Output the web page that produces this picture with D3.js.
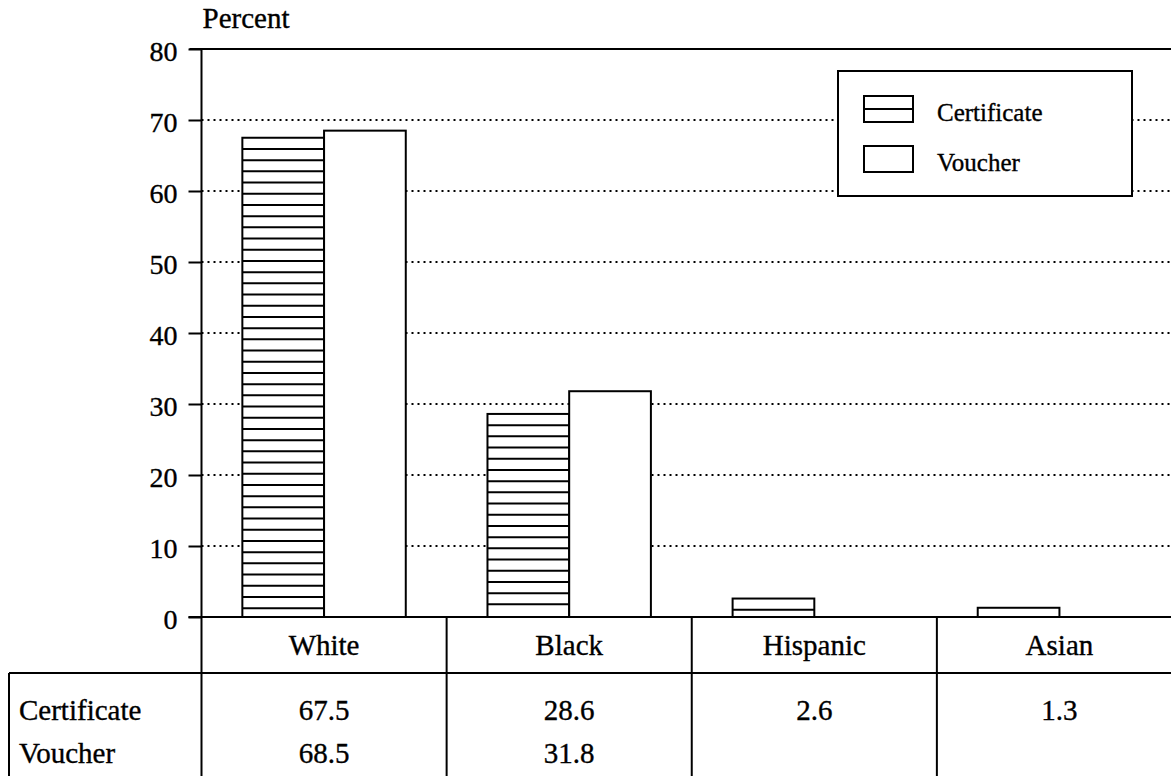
<!DOCTYPE html>
<html>
<head>
<meta charset="utf-8">
<script src="https://cdn.jsdelivr.net/npm/d3@7"></script>
<style>
  html, body { margin: 0; padding: 0; background: #fff; }
  svg { display: block; }
  text { font-family: "Liberation Serif", "DejaVu Serif", serif; fill: #000; stroke: #000; stroke-width: 0.35px; }
</style>
</head>
<body>
<svg id="chart" width="1171" height="776"></svg>
<script>
// Race of participants, certificate vs voucher programs (percent)
const categories = ["White", "Black", "Hispanic", "Asian"];
const seriesNames = ["Certificate", "Voucher"];
const certificate = [67.5, 28.6, 2.6, 1.3];
const voucher = [68.5, 31.8, null, null];
const yTicks = [0, 10, 20, 30, 40, 50, 60, 70, 80];
const yLabel = "Percent";

const W = 1171, H = 776;
const svg = d3.select("#chart");

const y = d3.scaleLinear().domain([0, 80]).range([617, 49]);
const x = d3.scaleBand().domain(categories).range([201.5, 1182]).padding(0);
const x1 = d3.scaleBand().domain(seriesNames).range([0, x.bandwidth()])
  .paddingInner(0).paddingOuter(0.5);

const axisX = x.range()[0];
const tableTop = y(0);
const headerBottom = 673;
const tableLeft = 9;

// dotted gridlines
svg.append("g").selectAll("line")
  .data(yTicks.filter(t => t > 0 && t < 80))
  .join("line")
  .attr("x1", axisX).attr("x2", W)
  .attr("y1", d => y(d)).attr("y2", d => y(d))
  .attr("stroke", "#000").attr("stroke-width", 2)
  .attr("stroke-dasharray", "2,4");

// top frame line at 80
svg.append("line")
  .attr("x1", axisX - 12).attr("x2", W)
  .attr("y1", y(80)).attr("y2", y(80))
  .attr("stroke", "#000").attr("stroke-width", 2);

// bars
const rows = categories.map((c, i) => ({
  cat: c,
  values: [
    { key: "Certificate", value: certificate[i] },
    { key: "Voucher", value: voucher[i] }
  ].filter(d => d.value != null)
}));

const stripeGap = 11.2;
const groups = svg.append("g").selectAll("g")
  .data(rows).join("g")
  .attr("transform", d => `translate(${x(d.cat)},0)`);

const bars = groups.selectAll("g.bar")
  .data(d => d.values).join("g").attr("class", "bar");

bars.append("rect")
  .attr("x", d => x1(d.key))
  .attr("y", d => y(d.value))
  .attr("width", x1.bandwidth())
  .attr("height", d => y(0) - y(d.value))
  .attr("fill", "#fff")
  .attr("stroke", "#000").attr("stroke-width", 2);

// horizontal hatching for certificate bars
bars.filter(d => d.key === "Certificate").each(function(d) {
  const top = y(d.value), bottom = y(0);
  const lines = d3.range(top + stripeGap, bottom - 3, stripeGap);
  d3.select(this).selectAll("line.stripe")
    .data(lines).join("line").attr("class", "stripe")
    .attr("x1", x1(d.key)).attr("x2", x1(d.key) + x1.bandwidth())
    .attr("y1", v => v).attr("y2", v => v)
    .attr("stroke", "#000").attr("stroke-width", 2);
});

// y axis
const axis = d3.axisLeft(y).tickValues(yTicks).tickSize(13).tickPadding(11);
const gAxis = svg.append("g").attr("transform", `translate(${axisX},0)`).call(axis);
gAxis.select(".domain").remove();
gAxis.selectAll(".tick line").attr("stroke", "#000").attr("stroke-width", 2);
gAxis.selectAll(".tick text")
  .attr("font-size", 28)
  .attr("dy", "0.4em");

svg.append("line")
  .attr("x1", axisX).attr("x2", axisX)
  .attr("y1", y(80)).attr("y2", H)
  .attr("stroke", "#000").attr("stroke-width", 2);

svg.append("text")
  .attr("x", axisX + 1).attr("y", 28)
  .attr("font-size", 29)
  .text(yLabel);

// baseline / table top
svg.append("line")
  .attr("x1", axisX - 13).attr("x2", W)
  .attr("y1", tableTop).attr("y2", tableTop)
  .attr("stroke", "#000").attr("stroke-width", 2);

// legend
const legend = svg.append("g").attr("transform", "translate(838,71)");
legend.append("rect")
  .attr("width", 294).attr("height", 125)
  .attr("fill", "#fff").attr("stroke", "#000").attr("stroke-width", 2);
const li = legend.selectAll("g.item").data(seriesNames).join("g")
  .attr("class", "item")
  .attr("transform", (d, i) => `translate(26,${25 + i * 50})`);
li.append("rect")
  .attr("width", 49).attr("height", 26)
  .attr("fill", "#fff").attr("stroke", "#000").attr("stroke-width", 2);
li.filter(d => d === "Certificate").append("line")
  .attr("x1", 0).attr("x2", 49).attr("y1", 13).attr("y2", 13)
  .attr("stroke", "#000").attr("stroke-width", 2);
li.append("text")
  .attr("x", 73).attr("y", 25)
  .attr("font-size", 25)
  .text(d => d);

// data table
const table = svg.append("g");
table.append("line")
  .attr("x1", tableLeft).attr("x2", W)
  .attr("y1", headerBottom).attr("y2", headerBottom)
  .attr("stroke", "#000").attr("stroke-width", 2);
table.append("line")
  .attr("x1", tableLeft).attr("x2", tableLeft)
  .attr("y1", headerBottom).attr("y2", H)
  .attr("stroke", "#000").attr("stroke-width", 2);
table.selectAll("line.col")
  .data(categories.slice(1)).join("line").attr("class", "col")
  .attr("x1", d => x(d)).attr("x2", d => x(d))
  .attr("y1", tableTop).attr("y2", H)
  .attr("stroke", "#000").attr("stroke-width", 2);

const fs = 29;
table.selectAll("text.head")
  .data(categories).join("text").attr("class", "head")
  .attr("x", d => x(d) + x.bandwidth() / 2)
  .attr("y", 655)
  .attr("text-anchor", "middle")
  .attr("font-size", fs)
  .text(d => d);

const rowY = { Certificate: 720, Voucher: 763 };
const rowData = { Certificate: certificate, Voucher: voucher };
seriesNames.forEach(s => {
  table.append("text")
    .attr("x", 19).attr("y", rowY[s])
    .attr("font-size", fs)
    .text(s);
  table.selectAll(null)
    .data(categories.map((c, i) => ({ c, v: rowData[s][i] })).filter(d => d.v != null))
    .join("text")
    .attr("x", d => x(d.c) + x.bandwidth() / 2)
    .attr("y", rowY[s])
    .attr("text-anchor", "middle")
    .attr("font-size", fs)
    .text(d => d3.format(".1f")(d.v));
});
</script>
</body>
</html>
